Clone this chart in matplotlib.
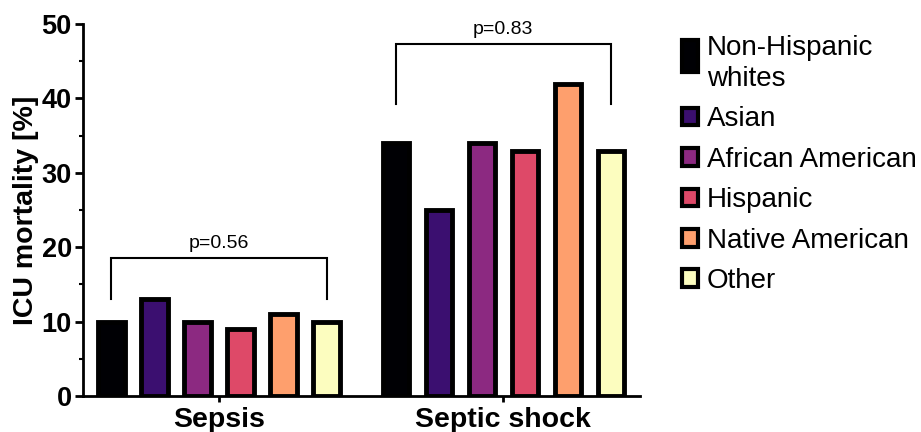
import matplotlib
matplotlib.use("Agg")
import matplotlib.pyplot as plt
from matplotlib.patches import Patch, Rectangle
from matplotlib.legend_handler import HandlerPatch
from matplotlib.ticker import MultipleLocator

groups = ["Sepsis", "Septic shock"]
races = ["Non-Hispanic\nwhites", "Asian", "African American", "Hispanic", "Native American", "Other"]
colors = ["#000004", "#3b0f70", "#8c2981", "#de4968", "#fe9f6d", "#fcfdbf"]
sepsis = [10, 13, 10, 9, 11, 10]
septic_shock = [34, 25, 34, 33, 42, 33]
pvalues = ["p=0.56", "p=0.83"]

plt.rcParams['font.family'] = ['Liberation Sans', 'DejaVu Sans']

fig = plt.figure(figsize=(9.21, 4.32), dpi=100)
ax = fig.add_axes([0.090, 0.0833, 0.605, 0.861])

step = 0.1514
width = 0.092
data = [sepsis, septic_shock]
for gi, vals in enumerate(data):
    for j, v in enumerate(vals):
        x = gi + (j - 2.5) * step
        ax.bar(x, v, width=width, color=colors[j], edgecolor="black", linewidth=3.5, zorder=3)

# brackets
bracket_y = [18.5, 47.3]
leg_y = [13.0, 39.2]
for gi in range(2):
    x0 = gi - 2.5 * step
    x1 = gi + 2.5 * step
    ax.plot([x0, x0, x1, x1], [leg_y[gi], bracket_y[gi], bracket_y[gi], leg_y[gi]],
            color="black", lw=1.5, solid_joinstyle="miter", clip_on=False)
    ax.text(gi, bracket_y[gi] + 0.8, pvalues[gi], ha="center", va="bottom", fontsize=14)

ax.set_xlim(-0.479, 1.482)
ax.set_ylim(0, 50)
ax.set_xticks([0, 1])
ax.set_xticklabels(groups, fontsize=20.5, fontweight="bold")
ax.yaxis.set_major_locator(MultipleLocator(10))
ax.yaxis.set_minor_locator(MultipleLocator(5))
ax.tick_params(axis="y", which="major", labelsize=19.5, width=2, length=6, pad=2)
for lab in ax.get_yticklabels():
    lab.set_fontweight("bold")
ax.tick_params(axis="y", which="minor", width=1.5, length=3)
ax.tick_params(axis="x", which="major", width=2, length=4, pad=4)
ax.set_ylabel("ICU mortality [%]", fontsize=20.5, fontweight="bold", labelpad=2)

for s in ["top", "right"]:
    ax.spines[s].set_visible(False)
ax.spines["left"].set_linewidth(2)
ax.spines["bottom"].set_linewidth(2)


def tall_patch(legend, orig_handle, xdescent, ydescent, width, height, fontsize):
    return Rectangle((-xdescent, -ydescent + 0.02 * height), width, 1.8 * height)


handles = [Patch(facecolor=c, edgecolor="black", linewidth=3) for c in colors]
leg = fig.legend(handles, races, loc="upper left", bbox_to_anchor=(0.728, 0.945), frameon=False,
                 fontsize=20, handlelength=0.6, handleheight=0.6, handletextpad=0.3,
                 labelspacing=0.52, borderaxespad=0,
                 handler_map={handles[0]: HandlerPatch(patch_func=tall_patch)})
for t in leg.get_texts():
    t.set_linespacing(1.25)

fig.savefig("out.png", dpi=100)
